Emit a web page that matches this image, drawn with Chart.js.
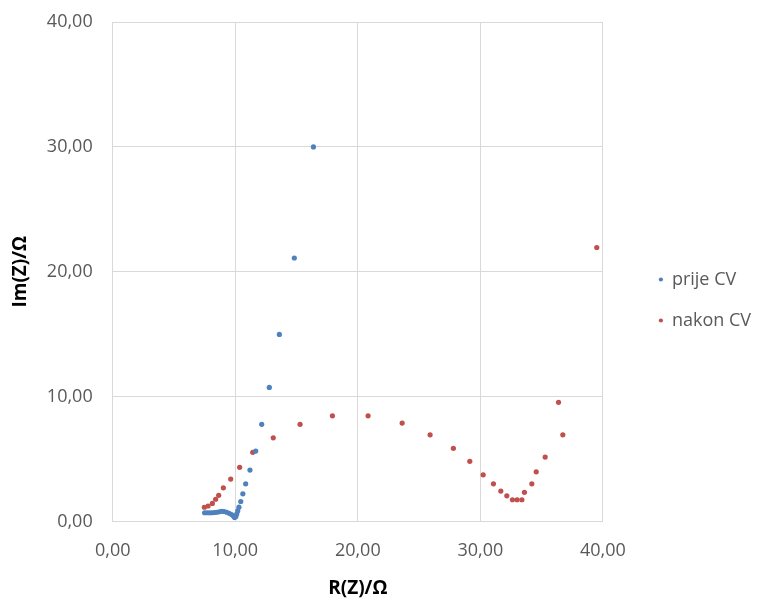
<!DOCTYPE html>
<html>
<head>
<meta charset="utf-8">
<script src="https://cdn.jsdelivr.net/npm/chart.js@4/dist/chart.umd.min.js"></script>
<style>
  html, body { margin: 0; padding: 0; background: #fff; }
  #wrap { width: 760px; height: 600px; }
</style>
</head>
<body>
<div id="wrap"><canvas id="myChart" width="760" height="600"></canvas></div>
<script>
// R(Z) / Im(Z) values
var prijeR  = [7.50, 7.70, 7.90, 8.10, 8.30, 8.50, 8.70, 8.90, 9.10, 9.30, 9.50, 9.70, 9.85, 9.95,
               10.05, 10.12, 10.20, 10.30, 10.45, 10.62, 10.85, 11.20, 11.67, 12.16, 12.78, 13.60, 14.82, 16.38];
var prijeIm = [0.70, 0.70, 0.70, 0.70, 0.72, 0.74, 0.78, 0.82, 0.80, 0.74, 0.66, 0.56, 0.44, 0.32,
               0.40, 0.60, 0.85, 1.15, 1.60, 2.22, 3.02, 4.12, 5.64, 7.78, 10.74, 14.98, 21.10, 30.00];

var nakonR  = [7.48, 7.78, 8.13, 8.40, 8.65, 9.03, 9.63, 10.36, 11.43, 13.10, 15.29, 17.93, 20.84, 23.62,
               25.90, 27.80, 29.14, 30.23, 31.07, 31.67, 32.16, 32.62, 33.00, 33.39, 33.60, 34.20, 34.56,
               35.29, 36.73, 36.38, 39.50];
var nakonIm = [1.14, 1.24, 1.45, 1.78, 2.10, 2.70, 3.40, 4.34, 5.54, 6.70, 7.78, 8.46, 8.46, 7.88,
               6.94, 5.86, 4.82, 3.74, 3.02, 2.44, 2.06, 1.74, 1.74, 1.74, 2.34, 3.02, 3.98,
               5.16, 6.94, 9.54, 21.94];

var seriesNames = ['prije CV', 'nakon CV'];
var axisMin = 0, axisMax = 40, axisStep = 10;

function toPoints(xs, ys) {
  var pts = [];
  for (var i = 0; i < xs.length; i++) pts.push({ x: xs[i], y: ys[i] });
  return pts;
}
function fmt(v) { return v.toFixed(2).replace('.', ','); }

var grey = '#595959';
var gridCol = '#D9D9D9';
var tickFont = { family: 'Open Sans', size: 18 };
var titleFont = { family: 'Open Sans', size: 19, weight: 'bold' };

// the legend sits further right than chart.js would put it
var legendShift = {
  id: 'legendShift',
  afterLayout: function(chart) {
    var lg = chart.legend;
    lg.left += 33; lg.right += 33;
    lg.top -= 11; lg.bottom -= 11;
  }
};

var ctx = document.getElementById('myChart');
var myChart = new Chart(ctx, {
  type: 'scatter',
  data: {
    datasets: [
      {
        label: seriesNames[0],
        data: toPoints(prijeR, prijeIm),
        backgroundColor: '#4F81BD',
        borderColor: '#4F81BD',
        borderWidth: 0,
        pointRadius: 2.6
      },
      {
        label: seriesNames[1],
        data: toPoints(nakonR, nakonIm),
        backgroundColor: '#C0504D',
        borderColor: '#C0504D',
        borderWidth: 0,
        pointRadius: 2.6
      }
    ]
  },
  options: {
    responsive: false,
    animation: false,
    layout: { padding: { top: 22, left: 0, right: 32, bottom: 0 } },
    plugins: {
      tooltip: { enabled: false },
      legend: {
        position: 'right',
        labels: {
          usePointStyle: true,
          pointStyle: 'circle',
          boxWidth: 4,
          boxHeight: 3,
          padding: 23,
          color: grey,
          font: { family: 'Open Sans', size: 18 }
        }
      }
    },
    scales: {
      x: {
        type: 'linear',
        min: axisMin, max: axisMax,
        grid: { color: gridCol, drawTicks: false },
        border: { color: gridCol },
        ticks: { stepSize: axisStep, padding: 19, color: grey, font: tickFont, callback: fmt, maxRotation: 0 },
        title: { display: true, text: 'R(Z)/Ω', color: '#000', font: titleFont, padding: { top: 15, bottom: 0 } },
        afterFit: function(scale) { scale.height = 78.5; }
      },
      y: {
        type: 'linear',
        min: axisMin, max: axisMax,
        grid: { color: gridCol, drawTicks: false },
        border: { color: gridCol },
        ticks: { stepSize: axisStep, padding: 20, color: grey, font: tickFont, callback: fmt },
        title: { display: true, text: 'Im(Z)/Ω', color: '#000', font: titleFont, padding: { top: 9, bottom: 11 } },
        afterFit: function(scale) {
          scale.width = 112.7;
          scale.paddingTop = 0;
          scale.paddingBottom = 0;
        }
      }
    }
  },
  plugins: [legendShift]
});
</script>
</body>
</html>
